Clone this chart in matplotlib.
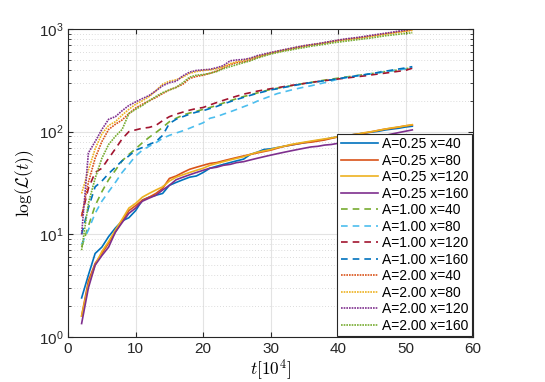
import numpy as np
import matplotlib
matplotlib.use("Agg")
import matplotlib.pyplot as plt

plt.rcParams['font.family'] = ['Liberation Sans', 'DejaVu Sans']
plt.rcParams['mathtext.fontset'] = 'cm'

t = np.arange(2, 52)

# A = 0.25 (solid)
a025_x40 = [2.4, 4.0, 6.5, 7.5, 9.5, 11.5, 13.5, 14.5, 17, 21.5, 23, 24, 25, 30, 32, 34, 36, 37, 40, 44,
            46, 48, 50, 52, 54, 60, 63, 67, 68, 70, 72, 74, 76, 78, 80, 82, 84, 87, 89, 91,
            93, 95, 97, 99, 101, 104, 106, 108, 111, 113]
a025_x80 = [1.6, 3.5, 5.2, 6.5, 8.2, 10.5, 13.5, 17, 19, 21.5, 23, 25, 28, 35, 37, 40, 43, 45, 47, 49,
            50, 52, 54, 56, 58, 60, 62, 64, 66, 69, 72, 74, 76, 78, 79, 81, 83, 86, 89, 91,
            93, 95, 97, 100, 103, 106, 108, 111, 114, 116]
a025_x120 = [1.6, 3.2, 5.0, 6.8, 8.5, 11, 14, 18, 20, 23, 25, 27, 29, 33, 36, 38, 40, 42, 44, 47,
             49, 51, 53, 55, 57, 60, 63, 65, 67, 70, 72, 75, 77, 79, 81, 83, 85, 87, 89, 91,
             93, 95, 98, 100, 103, 106, 109, 111, 114, 117]
a025_x160 = [1.35, 3.0, 5.0, 6.2, 7.5, 10.5, 13, 16, 18, 21, 22.5, 24, 27, 30, 34, 36, 38, 40, 42, 44,
             45, 47, 48, 50, 51, 53, 55, 57, 59, 61, 63, 65, 67, 69, 71, 72, 74, 75, 77, 79,
             81, 83, 85, 87, 89, 92, 95, 98, 101, 104]

# A = 1.00 (dashed)
a100_x40 = [7.5, 12, 19, 26, 34, 42, 52, 60, 68, 78, 88, 98, 110, 125, 135, 145, 152, 158, 165, 172,
            180, 190, 200, 210, 220, 228, 238, 248, 258, 265, 272, 280, 288, 295, 302, 310, 318, 325, 332, 340,
            346, 354, 360, 368, 375, 384, 392, 400, 410, 420]
a100_x80 = [8, 11, 16, 21, 26, 32, 40, 48, 58, 66, 72, 78, 86, 92, 97, 102, 108, 115, 122, 135,
            140, 148, 156, 165, 175, 185, 198, 210, 222, 235, 244, 254, 263, 272, 280, 290, 300, 312, 325, 335,
            343, 352, 360, 368, 376, 384, 392, 400, 410, 420]
a100_x120 = [15, 28, 40, 44, 55, 68, 85, 100, 104, 108, 110, 115, 128, 140, 148, 155, 162, 168, 172, 182,
             192, 202, 212, 222, 232, 240, 248, 255, 262, 268, 275, 282, 288, 295, 302, 308, 314, 320, 326, 332,
             338, 344, 350, 358, 365, 372, 380, 388, 396, 415]
a100_x160 = [10, 18, 29, 33, 39, 45, 52, 58, 66, 70, 75, 80, 92, 120, 132, 140, 148, 155, 160, 168,
             176, 186, 196, 206, 216, 226, 236, 245, 255, 262, 270, 278, 286, 294, 300, 307, 314, 320, 328, 336,
             344, 352, 360, 368, 378, 388, 398, 408, 418, 430]

# A = 2.00 (dotted)
a200_x40 = [15, 32, 55, 80, 105, 118, 130, 150, 170, 185, 200, 215, 235, 255, 270, 290, 330, 345, 355, 370,
            390, 420, 450, 470, 480, 500, 530, 555, 580, 600, 620, 640, 660, 680, 700, 715, 735, 755, 775, 790,
            805, 820, 840, 860, 880, 900, 920, 940, 960, 980]
a200_x80 = [25, 42, 68, 95, 115, 125, 145, 165, 185, 200, 220, 250, 290, 310, 320, 340, 370, 385, 395, 400,
            410, 430, 460, 480, 495, 515, 540, 560, 585, 605, 625, 645, 665, 685, 700, 715, 730, 750, 770, 785,
            800, 815, 830, 850, 870, 890, 910, 930, 950, 970]
a200_x120 = [10, 62, 80, 105, 132, 140, 160, 180, 195, 210, 225, 250, 280, 300, 310, 350, 380, 395, 400, 405,
             420, 440, 490, 500, 505, 520, 550, 570, 590, 610, 630, 650, 670, 690, 705, 720, 740, 760, 780, 800,
             815, 830, 850, 870, 890, 910, 930, 955, 980, 1000]
a200_x160 = [7, 20, 35, 55, 75, 90, 105, 150, 165, 180, 200, 220, 240, 255, 270, 300, 340, 355, 360, 370,
             385, 410, 430, 450, 470, 490, 520, 545, 570, 590, 610, 625, 645, 660, 680, 695, 710, 730, 745, 760,
             775, 790, 805, 820, 840, 860, 875, 890, 905, 920]

series = [
    ('A=0.25 x=40', a025_x40, '#0072BD', '-'),
    ('A=0.25 x=80', a025_x80, '#D95319', '-'),
    ('A=0.25 x=120', a025_x120, '#EDB120', '-'),
    ('A=0.25 x=160', a025_x160, '#7E2F8E', '-'),
    ('A=1.00 x=40', a100_x40, '#77AC30', '--'),
    ('A=1.00 x=80', a100_x80, '#4DBEEE', '--'),
    ('A=1.00 x=120', a100_x120, '#A2142F', '--'),
    ('A=1.00 x=160', a100_x160, '#0072BD', '--'),
    ('A=2.00 x=40', a200_x40, '#D95319', ':'),
    ('A=2.00 x=80', a200_x80, '#EDB120', ':'),
    ('A=2.00 x=120', a200_x120, '#7E2F8E', ':'),
    ('A=2.00 x=160', a200_x160, '#77AC30', ':'),
]

fig = plt.figure(figsize=(5.45, 3.82), dpi=100)
ax = fig.add_axes([0.125, 0.118, 0.743, 0.806])

for label, y, c, ls in series:
    if ls == '--':
        ax.plot(t, y, color=c, ls=ls, lw=1.2, dashes=(4, 3), label=label)
    elif ls == ':':
        ax.plot(t, y, color=c, ls=ls, lw=1.2, dashes=(1, 0.6), label=label)
    else:
        ax.plot(t, y, color=c, ls=ls, lw=1.2, label=label)

ax.set_yscale('log')
ax.set_xlim(0, 60)
ax.set_ylim(1, 1000)
ax.set_xticks([0, 10, 20, 30, 40, 50, 60])

ax.grid(True, which='major', color='#e3e3e3', lw=0.8, ls='-')
ax.grid(True, which='minor', axis='y', color='#d0d0d0', lw=0.6, ls=(0, (1, 2.5)))
ax.set_axisbelow(True)

ax.tick_params(which='both', direction='in', top=True, right=True, labelsize=11, colors='#262626')
ax.tick_params(which='major', length=3.5)
ax.tick_params(which='minor', length=2)
ax.tick_params(axis='x', which='minor', top=False, bottom=False)
for s in ax.spines.values():
    s.set_color('#262626')
    s.set_linewidth(0.8)

ax.set_xlabel(r'$t[10^4]$', fontsize=12.5, labelpad=1)
ax.set_ylabel(r'$\log(\mathcal{L}(t))$', fontsize=12.5, labelpad=2)

leg = ax.legend(loc='lower right', fontsize=10, handlelength=2.65, labelspacing=0.18,
                borderaxespad=0.05, handletextpad=0.35, borderpad=0.25, fancybox=False,
                framealpha=1, edgecolor='#262626')
leg.get_frame().set_linewidth(0.8)

fig.savefig('out.png', dpi=100)
